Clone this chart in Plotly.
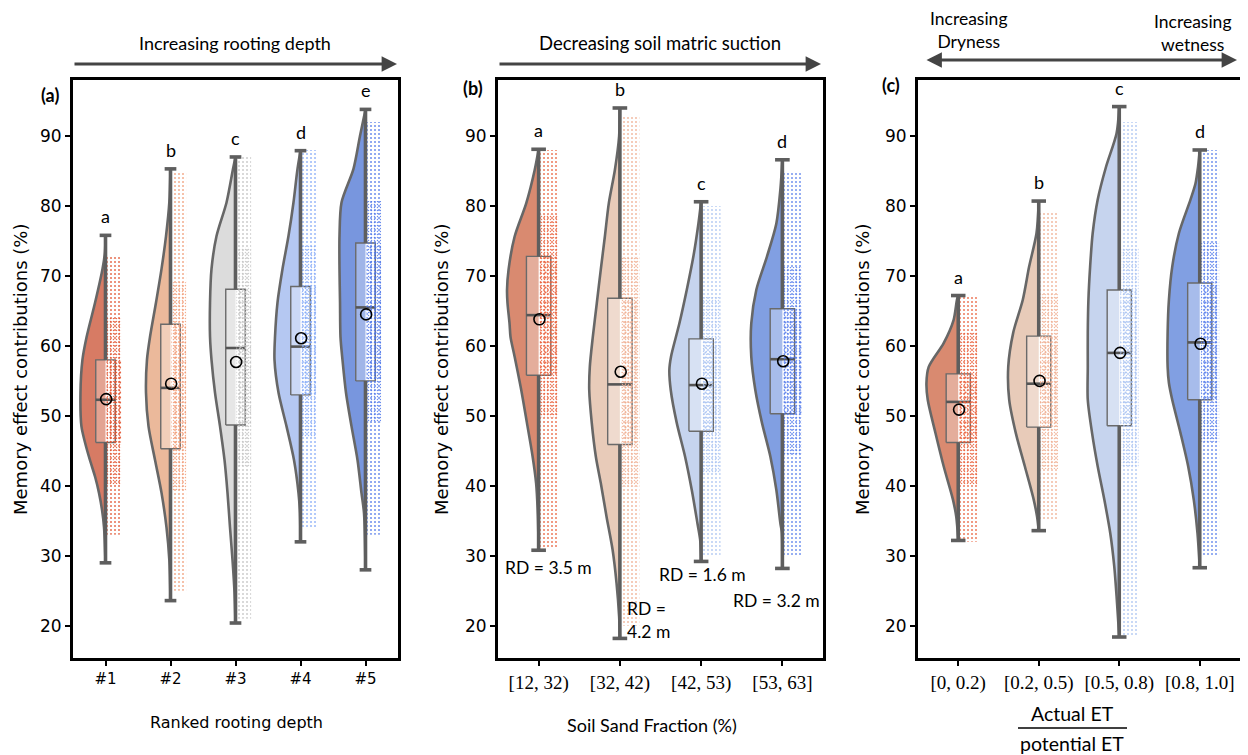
import plotly.graph_objects as go

# page body has an 8px default margin: draw a 1240x747 figure and map window pixels into it
OFF = 8
W, H = 1240, 747

# ---------------- data ----------------
cats_a = ["#1", "#2", "#3", "#4", "#5"]
min_a = [29.0, 23.6, 20.4, 32.0, 28.0]
q1_a = [46.2, 45.3, 48.7, 53.0, 55.0]
med_a = [52.3, 54.0, 59.7, 59.9, 65.5]
q3_a = [58.0, 63.1, 68.1, 68.5, 74.7]
max_a = [75.8, 85.3, 87.0, 87.9, 93.8]
mean_a = [52.4, 54.6, 57.7, 61.1, 64.5]
letters_a = ["a", "b", "c", "d", "e"]
dots_lo_a = [33.0, 25.0, 21.0, 34.0, 33.0]
dots_hi_a = [73.0, 85.0, 87.0, 88.0, 92.0]

cats_b = ["[12, 32)", "[32, 42)", "[42, 53)", "[53, 63]"]
min_b = [30.8, 18.2, 29.2, 28.2]
q1_b = [55.8, 45.9, 47.8, 50.3]
med_b = [64.4, 54.5, 54.4, 58.1]
q3_b = [72.8, 66.8, 61.0, 65.3]
max_b = [88.1, 94.0, 80.6, 86.6]
mean_b = [63.8, 56.3, 54.6, 57.8]
letters_b = ["a", "b", "c", "d"]
dots_lo_b = [31.0, 20.0, 30.0, 30.0]
dots_hi_b = [88.0, 93.0, 80.0, 85.0]
rd_labels = ["RD = 3.5 m", "RD =<br>4.2 m", "RD = 1.6 m", "RD = 3.2 m"]

cats_c = ["[0, 0.2)", "[0.2, 0.5)", "[0.5, 0.8)", "[0.8, 1.0]"]
min_c = [32.2, 33.6, 18.4, 28.3]
q1_c = [46.2, 48.4, 48.6, 52.3]
med_c = [52.0, 54.6, 59.0, 60.5]
q3_c = [56.0, 61.4, 68.0, 69.0]
max_c = [67.2, 80.7, 94.2, 88.0]
mean_c = [50.9, 55.0, 59.0, 60.3]
letters_c = ["a", "b", "c", "d"]
dots_lo_c = [32.0, 35.0, 18.5, 30.0]
dots_hi_c = [67.0, 79.0, 92.0, 88.0]

# violin half-width profiles (value level, half-width in category units)
vlev_a = [
    [29.0, 34.1, 36.6, 39.0, 41.3, 43.7, 46.2, 48.5, 53.3, 58.0, 61.3, 66.2, 71.0, 73.4, 75.8],
    [23.6, 29.4, 34.1, 39.0, 43.7, 48.5, 53.3, 58.0, 61.3, 66.2, 71.0, 75.7, 80.5, 85.3],
    [20.4, 24.7, 29.4, 34.1, 39.0, 43.7, 48.5, 53.3, 58.0, 61.3, 66.2, 71.0, 75.7, 80.5, 85.3, 87.0],
    [32.0, 36.1, 39.0, 43.7, 48.5, 53.3, 58.0, 61.3, 66.2, 71.0, 75.7, 80.5, 85.3, 87.9],
    [28.0, 36.1, 39.0, 43.7, 48.5, 53.3, 58.0, 61.3, 66.2, 71.0, 75.7, 80.5, 85.3, 90.0, 93.8],
]
vwid_a = [
    [0, .023, .054, .10, .16, .24, .315, .37, .385, .355, .29, .16, .046, .008, 0],
    [0, .018, .062, .138, .238, .338, .377, .362, .315, .223, .138, .069, .018, 0],
    [0, .015, .046, .085, .123, .169, .238, .315, .369, .392, .392, .369, .292, .138, .038, 0],
    [0, .008, .031, .10, .215, .338, .40, .392, .354, .277, .185, .108, .046, 0],
    [0, .023, .062, .123, .215, .30, .354, .385, .392, .40, .40, .369, .185, .085, 0],
]
vlev_b = [
    [30.8, 36.0, 40.4, 44.2, 49.0, 53.7, 58.5, 61.3, 63.2, 66.1, 68.0, 70.9, 75.6, 80.4, 85.1, 88.1],
    [18.2, 21.3, 26.1, 30.9, 35.6, 40.4, 44.2, 49.0, 53.7, 57.0, 61.3, 66.1, 70.9, 75.6, 80.4, 85.1, 90.0, 94.0],
    [29.2, 32.3, 34.7, 39.4, 44.2, 49.0, 53.7, 56.6, 58.5, 63.2, 68.0, 72.8, 77.5, 80.6],
    [28.2, 33.3, 34.7, 39.4, 44.2, 49.0, 53.7, 58.5, 63.2, 68.0, 72.8, 77.5, 82.3, 86.6],
]
vwid_b = [
    [0, .01, .031, .074, .144, .214, .296, .346, .358, .383, .389, .37, .296, .152, .049, 0],
    [0, .009, .041, .09, .164, .235, .296, .346, .377, .37, .333, .284, .235, .185, .136, .062, .009, 0],
    [0, .012, .046, .115, .198, .30, .374, .391, .37, .268, .177, .095, .033, 0],
    [0, .006, .025, .074, .148, .251, .333, .383, .383, .321, .189, .074, .025, 0],
]
vlev_c = [
    [32.2, 35.6, 38.0, 42.8, 47.6, 52.3, 54.7, 57.0, 60.4, 63.7, 66.6, 67.2],
    [33.6, 35.6, 38.0, 42.8, 47.5, 52.3, 57.0, 61.9, 66.6, 71.3, 76.1, 80.7],
    [18.4, 24.2, 28.5, 33.2, 38.0, 42.8, 47.5, 52.3, 57.0, 61.9, 66.6, 71.3, 76.1, 80.9, 85.6, 90.4, 94.2],
    [28.3, 33.2, 38.0, 42.8, 47.5, 52.3, 54.7, 57.0, 61.9, 66.6, 71.3, 76.1, 80.9, 83.2, 85.6, 88.0],
]
vwid_c = [
    [0, .025, .065, .181, .284, .379, .395, .367, .181, .058, .016, 0],
    [0, .021, .062, .173, .284, .367, .379, .317, .198, .12, .028, 0],
    [0, .033, .062, .111, .185, .268, .337, .391, .391, .391, .383, .362, .33, .268, .164, .033, 0],
    [0, .028, .074, .144, .238, .342, .383, .399, .399, .383, .342, .259, .115, .053, .021, 0],
]

viol_col_a = ["#d77b64", "#ebb99b", "#dcdcdc", "#b5c8f2", "#7896de"]
dot_col_a = ["#e2532f", "#f29d78", "#c4c4c4", "#86abf8", "#4f78ea"]
viol_col_b = ["#d98a70", "#e8cbb9", "#c6d4ee", "#819fe2"]
dot_col_b = ["#e9603b", "#f0ae92", "#a9c3f2", "#587fec"]
viol_col_c = ["#d98a70", "#e8cbb9", "#c6d4ee", "#819fe2"]
dot_col_c = ["#e9603b", "#f0ae92", "#a9c3f2", "#587fec"]

# ---------------- layout geometry ----------------
def px(x):
    return (x - OFF) / W


def py(y):
    return 1 - (y - OFF) / H


YR = [15.4, 98.0]
panels = [
    dict(xa="x", ya="y", dom=[73, 398], cats=cats_a, mn=min_a, q1=q1_a, md=med_a, q3=q3_a, mx=max_a,
         mean=mean_a, let=letters_a, lo=dots_lo_a, hi=dots_hi_a, lev=vlev_a, wid=vwid_a,
         vc=viol_col_a, dc=dot_col_a),
    dict(xa="x2", ya="y2", dom=[498, 823], cats=cats_b, mn=min_b, q1=q1_b, md=med_b, q3=q3_b, mx=max_b,
         mean=mean_b, let=letters_b, lo=dots_lo_b, hi=dots_hi_b, lev=vlev_b, wid=vwid_b,
         vc=viol_col_b, dc=dot_col_b),
    dict(xa="x3", ya="y3", dom=[918, 1240], cats=cats_c, mn=min_c, q1=q1_c, md=med_c, q3=q3_c, mx=max_c,
         mean=mean_c, let=letters_c, lo=dots_lo_c, hi=dots_hi_c, lev=vlev_c, wid=vwid_c,
         vc=viol_col_c, dc=dot_col_c),
]

BOXW = 0.15
CAPW = 0.09
DOTX0, DOTX1 = 0.015, 0.24
GREY = "#5e5e5e"

fig = go.Figure()
annotations = []


def dot_layer(xa, ya, c, lo, hi, color, size, solidity, opacity):
    fig.add_trace(go.Scatter(x=[c + DOTX0, c + DOTX1, c + DOTX1, c + DOTX0, c + DOTX0],
                             y=[lo, lo, hi, hi, lo], mode="lines", fill="toself",
                             fillcolor="rgba(0,0,0,0)", line=dict(width=0),
                             fillpattern=dict(shape=".", size=size, solidity=solidity,
                                              fgcolor=color, bgcolor="rgba(0,0,0,0)",
                                              fgopacity=opacity),
                             xaxis=xa, yaxis=ya, hoverinfo="skip", showlegend=False))


for P in panels:
    xa, ya = P["xa"], P["ya"]
    n = len(P["cats"])
    for i in range(n):
        c = i
        lev, wid = P["lev"][i], P["wid"][i]
        # violin fill (left half)
        xs = [c - w for w in wid] + [c] * len(lev)
        ys = list(lev) + list(reversed(lev))
        fig.add_trace(go.Scatter(x=xs, y=ys, mode="lines", fill="toself", fillcolor=P["vc"][i],
                                 line=dict(width=0, shape="spline", smoothing=0.8),
                                 xaxis=xa, yaxis=ya, hoverinfo="skip", showlegend=False))
        fig.add_trace(go.Scatter(x=[c - w for w in wid], y=lev, mode="lines",
                                 line=dict(color="#676767", width=2.6, shape="spline", smoothing=0.8),
                                 xaxis=xa, yaxis=ya, hoverinfo="skip", showlegend=False))
        # box
        fig.add_trace(go.Scatter(x=[c - BOXW, c + BOXW, c + BOXW, c - BOXW, c - BOXW],
                                 y=[P["q1"][i], P["q1"][i], P["q3"][i], P["q3"][i], P["q1"][i]],
                                 mode="lines", fill="toself", fillcolor="rgba(255,255,255,0.3)",
                                 line=dict(color="#6a6a6a", width=1.4),
                                 xaxis=xa, yaxis=ya, hoverinfo="skip", showlegend=False))
        # median
        fig.add_trace(go.Scatter(x=[c - BOXW, c + BOXW], y=[P["md"][i]] * 2, mode="lines",
                                 line=dict(color="#555555", width=2.6),
                                 xaxis=xa, yaxis=ya, hoverinfo="skip", showlegend=False))
        # rain dots (texture, denser toward the middle of the distribution)
        dot_layer(xa, ya, c, P["lo"][i], P["hi"][i], P["dc"][i], 4, 0.17, 0.9)
        dot_layer(xa, ya, c, P["q1"][i] - 6, P["q3"][i] + 6, P["dc"][i], 3, 0.2, 0.85)
        dot_layer(xa, ya, c, P["q1"][i], P["q3"][i], P["dc"][i], 5, 0.15, 0.9)
        # whiskers and caps
        wx = [c, c, None, c, c, None, c - CAPW, c + CAPW, None, c - CAPW, c + CAPW]
        wy = [P["mn"][i], P["q1"][i], None, P["q3"][i], P["mx"][i], None,
              P["mn"][i], P["mn"][i], None, P["mx"][i], P["mx"][i]]
        fig.add_trace(go.Scatter(x=wx, y=wy, mode="lines", line=dict(color=GREY, width=3.6),
                                 xaxis=xa, yaxis=ya, hoverinfo="skip", showlegend=False))
        # mean
        fig.add_trace(go.Scatter(x=[c + 0.01], y=[P["mean"][i]], mode="markers",
                                 marker=dict(symbol="circle-open", size=11, color="black",
                                             line=dict(width=1.6)),
                                 xaxis=xa, yaxis=ya, hoverinfo="skip", showlegend=False))
        # significance letter
        annotations.append(dict(x=c, y=P["mx"][i], xref=xa, yref=ya, text=P["let"][i],
                                showarrow=False, xanchor="center", yanchor="bottom", yshift=6,
                                font=dict(family="Lato", size=18, color="black")))

axis_common = dict(showgrid=False, zeroline=False, showline=True, linecolor="black", linewidth=3,
                   mirror=True, ticks="outside", ticklen=5, tickwidth=1.5, tickcolor="black")

layout = dict(width=W, height=H, margin=dict(l=0, r=0, t=0, b=0), paper_bgcolor="white",
              plot_bgcolor="white", showlegend=False)

for k, P in enumerate(panels):
    sfx = "" if k == 0 else str(k + 1)
    n = len(P["cats"])
    tickfont = dict(family="DejaVu Sans", size=15, color="black") if k == 0 else \
        dict(family="Liberation Serif", size=19, color="black")
    layout["xaxis" + sfx] = dict(domain=[px(P["dom"][0]), px(P["dom"][1])], range=[-0.5, n - 0.5],
                                 tickvals=list(range(n)), ticktext=P["cats"], tickfont=tickfont,
                                 anchor="y" + sfx, **axis_common)
    layout["yaxis" + sfx] = dict(domain=[py(658), py(80)], range=YR, tickvals=[20, 30, 40, 50, 60, 70, 80, 90],
                                 tickfont=dict(family="DejaVu Sans", size=17, color="black"),
                                 anchor="x" + sfx, **axis_common)

fig.update_layout(**layout)

# RD labels in panel (b)
rd_x = [0.12, 1.06, 2.02, 2.93]
rd_y = [28.4, 20.9, 27.4, 23.6]
rd_anchor = ["center", "left", "center", "center"]
for t, x, y, a in zip(rd_labels, rd_x, rd_y, rd_anchor):
    annotations.append(dict(x=x, y=y, xref="x2", yref="y2", text=t, showarrow=False, xanchor=a,
                            yanchor="middle", align="left",
                            font=dict(family="Lato", size=17.5, color="black")))


def ptext(x, y, t, size=17, family="Lato", **kw):
    d = dict(x=px(x), y=py(y), xref="paper", yref="paper", text=t, showarrow=False,
             xanchor="center", yanchor="middle",
             font=dict(family=family, size=size, color="black"))
    d.update(kw)
    annotations.append(d)


# y titles
for xx in [20, 441, 862]:
    ptext(xx, 369, "Memory effect contributions (%)", size=18, family="DejaVu Sans", textangle=-90)

# panel tags
ptext(50, 95, "<b>(a)</b>", size=18)
ptext(473, 88, "<b>(b)</b>", size=18)
ptext(891, 85, "<b>(c)</b>", size=18)

# x titles
ptext(236, 722, "Ranked rooting depth", size=16, family="DejaVu Sans")
ptext(652, 725, "Soil Sand Fraction (%)", size=18)
ptext(1072, 713, "Actual ET", size=19.5)
ptext(1072, 743, "potential ET", size=19.5)

# top texts
ptext(235, 43, "Increasing rooting depth", size=18)
ptext(660, 43, "Decreasing soil matric suction", size=18.5)
ptext(968, 30, "Increasing<br>Dryness", size=17.5)
ptext(1192, 33, "Increasing<br>wetness", size=17.5)


# arrows (ax/ay in pixels relative to head)
def arrow(x0, x1, y, both=False):
    d = dict(x=px(x1), y=py(y), ax=x0 - x1, ay=0, xref="paper", yref="paper",
             text="", showarrow=True, arrowhead=2, arrowsize=1.1, arrowwidth=2.8,
             arrowcolor="#444444")
    if both:
        d.update(arrowside="end+start", startarrowhead=2, startarrowsize=1.1)
    annotations.append(d)


arrow(73, 397, 64)
arrow(498, 821, 64)
arrow(925, 1237, 60, both=True)

fig.update_layout(annotations=annotations,
                  shapes=[dict(type="line", xref="paper", yref="paper", x0=px(1018), x1=px(1127),
                               y0=py(728), y1=py(728), line=dict(color="black", width=1.5))])

fig.write_html("out.html")
